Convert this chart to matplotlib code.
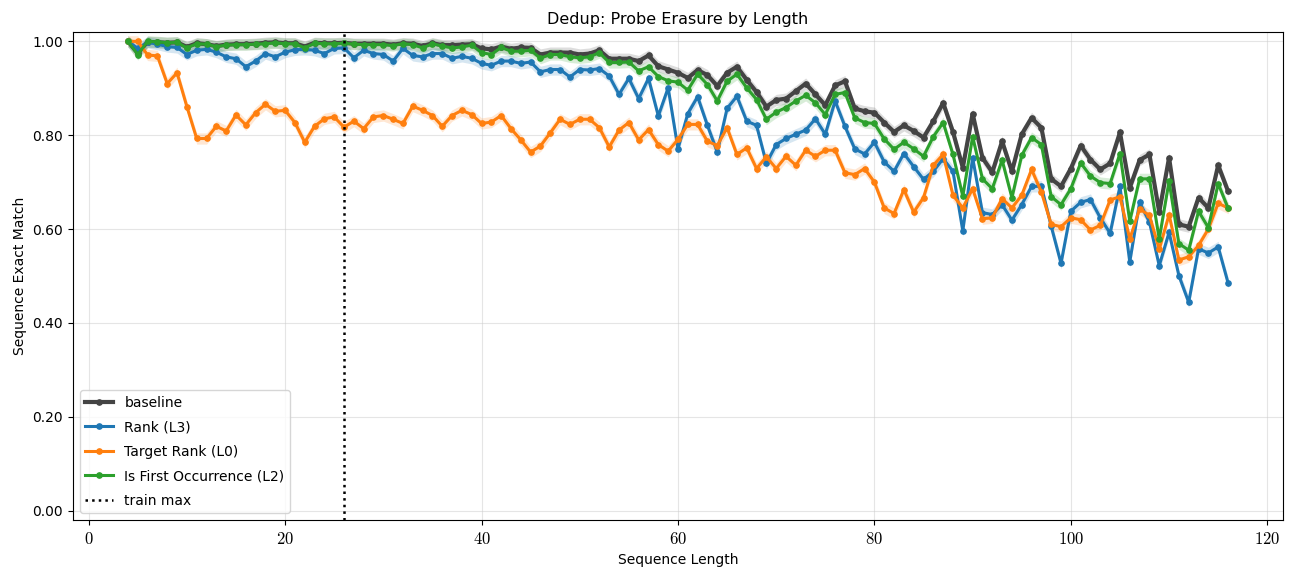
import numpy as np
import matplotlib
matplotlib.use("Agg")
import matplotlib.pyplot as plt
from matplotlib.ticker import FuncFormatter

plt.rcParams['font.family'] = ['DejaVu Sans']
plt.rcParams['mathtext.fontset'] = 'cm'

lengths = list(range(4, 117))

baseline = [1.000, 0.975, 0.999, 0.998, 0.997, 0.998, 0.988, 0.996, 0.994, 0.990,
            0.993, 0.994, 0.994, 0.995, 0.997, 0.998, 0.996, 0.996, 0.989, 0.997,
            0.996, 0.996, 0.997, 0.995, 0.995, 0.995, 0.995, 0.993, 0.996, 0.995,
            0.990, 0.996, 0.992, 0.992, 0.993, 0.994, 0.985, 0.983, 0.989, 0.984,
            0.987, 0.986, 0.972, 0.976, 0.976, 0.976, 0.972, 0.974, 0.981, 0.963,
            0.963, 0.963, 0.958, 0.970, 0.947, 0.940, 0.933, 0.922, 0.939, 0.928,
            0.905, 0.933, 0.946, 0.918, 0.892, 0.861, 0.875, 0.878, 0.894, 0.910,
            0.887, 0.864, 0.906, 0.915, 0.857, 0.851, 0.848, 0.827, 0.807, 0.821,
            0.809, 0.795, 0.830, 0.869, 0.807, 0.731, 0.846, 0.752, 0.721, 0.787,
            0.723, 0.802, 0.837, 0.816, 0.707, 0.691, 0.729, 0.778, 0.748, 0.727,
            0.740, 0.806, 0.688, 0.747, 0.759, 0.636, 0.752, 0.610, 0.605, 0.667,
            0.645, 0.736, 0.681]

rank_l3 = [1.000, 0.985, 0.998, 0.994, 0.989, 0.987, 0.972, 0.981, 0.983, 0.977,
           0.967, 0.963, 0.946, 0.958, 0.974, 0.967, 0.977, 0.982, 0.983, 0.981,
           0.974, 0.985, 0.986, 0.965, 0.981, 0.974, 0.972, 0.958, 0.985, 0.970,
           0.967, 0.974, 0.974, 0.964, 0.968, 0.964, 0.953, 0.949, 0.958, 0.958,
           0.953, 0.956, 0.935, 0.940, 0.940, 0.924, 0.940, 0.939, 0.942, 0.926,
           0.887, 0.921, 0.878, 0.921, 0.841, 0.901, 0.771, 0.846, 0.882, 0.821,
           0.764, 0.857, 0.883, 0.830, 0.821, 0.740, 0.780, 0.793, 0.802, 0.811,
           0.835, 0.802, 0.873, 0.819, 0.771, 0.760, 0.785, 0.743, 0.723, 0.761,
           0.733, 0.706, 0.723, 0.750, 0.723, 0.596, 0.752, 0.635, 0.631, 0.652,
           0.619, 0.652, 0.691, 0.691, 0.606, 0.527, 0.638, 0.657, 0.663, 0.624,
           0.591, 0.691, 0.530, 0.657, 0.615, 0.522, 0.593, 0.501, 0.444, 0.558,
           0.549, 0.562, 0.486]

target_rank_l0 = [1.000, 1.000, 0.971, 0.969, 0.910, 0.933, 0.861, 0.793, 0.793, 0.819,
                  0.809, 0.843, 0.822, 0.848, 0.866, 0.851, 0.853, 0.827, 0.785, 0.819,
                  0.835, 0.839, 0.817, 0.830, 0.814, 0.839, 0.842, 0.834, 0.825, 0.862,
                  0.853, 0.842, 0.819, 0.842, 0.853, 0.844, 0.825, 0.828, 0.842, 0.814,
                  0.790, 0.764, 0.777, 0.805, 0.834, 0.823, 0.834, 0.834, 0.816, 0.775,
                  0.811, 0.827, 0.790, 0.812, 0.780, 0.766, 0.791, 0.823, 0.823, 0.787,
                  0.778, 0.816, 0.759, 0.773, 0.729, 0.754, 0.729, 0.755, 0.736, 0.768,
                  0.755, 0.768, 0.768, 0.720, 0.716, 0.729, 0.700, 0.645, 0.633, 0.684,
                  0.636, 0.667, 0.736, 0.759, 0.672, 0.645, 0.686, 0.622, 0.624, 0.665,
                  0.645, 0.672, 0.727, 0.679, 0.610, 0.605, 0.624, 0.620, 0.598, 0.608,
                  0.662, 0.669, 0.579, 0.643, 0.629, 0.557, 0.631, 0.534, 0.541, 0.565,
                  0.600, 0.655, 0.645]

first_occ_l2 = [1.000, 0.972, 1.000, 0.999, 0.997, 0.998, 0.986, 0.995, 0.994, 0.989,
                0.992, 0.993, 0.993, 0.994, 0.995, 0.997, 0.995, 0.995, 0.986, 0.996,
                0.995, 0.995, 0.996, 0.994, 0.993, 0.993, 0.993, 0.991, 0.995, 0.993,
                0.986, 0.995, 0.990, 0.986, 0.988, 0.992, 0.976, 0.972, 0.987, 0.979,
                0.979, 0.981, 0.964, 0.972, 0.972, 0.967, 0.965, 0.967, 0.976, 0.955,
                0.955, 0.956, 0.937, 0.946, 0.925, 0.916, 0.913, 0.896, 0.930, 0.908,
                0.873, 0.915, 0.930, 0.901, 0.876, 0.834, 0.849, 0.859, 0.873, 0.885,
                0.869, 0.844, 0.887, 0.891, 0.837, 0.827, 0.825, 0.792, 0.770, 0.785,
                0.771, 0.755, 0.797, 0.827, 0.759, 0.670, 0.797, 0.707, 0.686, 0.747,
                0.667, 0.757, 0.795, 0.780, 0.669, 0.652, 0.686, 0.741, 0.713, 0.699,
                0.697, 0.761, 0.617, 0.707, 0.707, 0.579, 0.702, 0.569, 0.555, 0.638,
                0.603, 0.697, 0.645]

series_labels = ["baseline", "Rank (L3)", "Target Rank (L0)", "Is First Occurrence (L2)"]
train_max = 26
ci_half = 0.012

fig = plt.figure(figsize=(12.91, 5.71), dpi=100)
ax = fig.add_axes([0.0565, 0.0893, 0.9373, 0.8547])

styles = [
    (baseline, "#444444", 3.0),
    (rank_l3, "#1f77b4", 2.2),
    (target_rank_l0, "#ff7f0e", 2.2),
    (first_occ_l2, "#2ca02c", 2.2),
]
x = np.array(lengths)
for (vals, col, lw), lab in zip(styles, series_labels):
    v = np.array(vals)
    ax.fill_between(x, v - ci_half, v + ci_half, color=col, alpha=0.18, linewidth=0)
    ax.plot(x, v, color=col, lw=lw, marker='o', markersize=3.8, label=lab)

ax.axvline(train_max, color='black', linestyle=':', linewidth=1.8, label='train max')

ax.set_ylim(-0.02, 1.02)
ax.set_yticks([0.0, 0.2, 0.4, 0.6, 0.8, 1.0])
ax.yaxis.set_major_formatter(FuncFormatter(lambda v, p: f"{v:.2f}"))
ax.set_xticks([0, 20, 40, 60, 80, 100, 120])
ax.xaxis.set_major_formatter(FuncFormatter(lambda v, p: f"${int(v)}$"))
ax.tick_params(axis='y', labelsize=10)
ax.tick_params(axis='x', labelsize=12)
ax.grid(True, color='#cccccc', alpha=0.5, linewidth=0.8)
ax.set_axisbelow(True)

ax.set_title("Dedup: Probe Erasure by Length", fontsize=11.5)
ax.set_xlabel("Sequence Length", fontsize=10)
ax.set_ylabel("Sequence Exact Match", fontsize=10)
ax.legend(loc='lower left', fontsize=10, framealpha=0.8, labelspacing=0.75)

fig.savefig("out.png", dpi=100)
